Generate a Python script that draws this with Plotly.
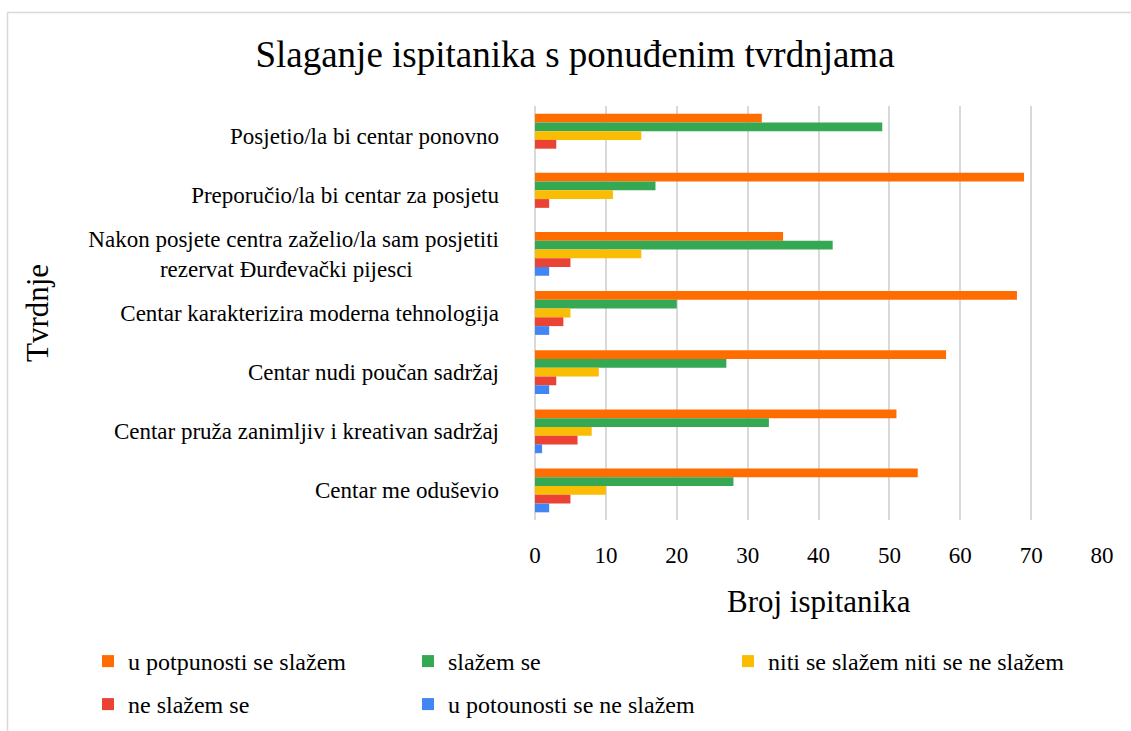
import plotly.graph_objects as go

categories = [
    "Posjetio/la bi centar ponovno",
    "Preporučio/la bi centar za posjetu",
    "Nakon posjete centra zaželio/la sam posjetiti rezervat Đurđevački pijesci",
    "Centar karakterizira moderna tehnologija",
    "Centar nudi poučan sadržaj",
    "Centar pruža zanimljiv i kreativan sadržaj",
    "Centar me oduševio",
]
tick_labels = [
    "Posjetio/la bi centar ponovno",
    "Preporučio/la bi centar za posjetu",
    "Nakon posjete centra zaželio/la sam posjetiti<br>rezervat Đurđevački pijesci" + "\u00a0" * 15,
    "Centar karakterizira moderna tehnologija",
    "Centar nudi poučan sadržaj",
    "Centar pruža zanimljiv i kreativan sadržaj",
    "Centar me oduševio",
]
series_names = [
    "u potpunosti se slažem",
    "slažem se",
    "niti se slažem niti se ne slažem",
    "ne slažem se",
    "u potounosti se ne slažem",
]
u_potpunosti_se_slazem = [32, 69, 35, 68, 58, 51, 54]
slazem_se = [49, 17, 42, 20, 27, 33, 28]
niti_niti = [15, 11, 15, 5, 9, 8, 10]
ne_slazem_se = [3, 2, 5, 4, 3, 6, 5]
u_potpunosti_ne = [0, 0, 2, 2, 2, 1, 2]
x_ticks = [0, 10, 20, 30, 40, 50, 60, 70, 80]

series_values = [u_potpunosti_se_slazem, slazem_se, niti_niti, ne_slazem_se, u_potpunosti_ne]
colors = ["#FF6D01", "#34A853", "#FBBC04", "#EA4335", "#4285F4"]

FONT = "Liberation Serif"
W, H = 1131, 731
L, R, T, B = 535, 29, 106, 211
pw, ph = W - L - R, H - T - B

# legend slot per series: (column, row)
legend_ids = ["legend2", "legend3", "legend4", "legend5", "legend6"]
legend_cols = [88, 408, 728, 88, 408]
legend_rows = [639, 639, 639, 682, 682]

fig = go.Figure()
for name, vals, col, lg in zip(series_names, series_values, colors, legend_ids):
    fig.add_trace(go.Bar(
        y=categories, x=vals, name=name, orientation="h",
        marker=dict(color=col, line=dict(width=0)), legend=lg,
        showlegend=True,
    ))

def px_x(p):
    return (p - L) / pw

def px_y(p):
    return (H - B - p) / ph

legends = {}
for lg, cx, ry in zip(legend_ids, legend_cols, legend_rows):
    legends[lg] = dict(orientation="h", xref="container", yref="container",
                       x=cx / W, xanchor="left", y=1 - ry / H, yanchor="top",
                       font=dict(family=FONT, size=24),
                       bgcolor="rgba(0,0,0,0)")

fig.update_layout(
    width=W, height=H,
    showlegend=True,
    margin=dict(l=L, r=R, t=T, b=B, autoexpand=False),
    paper_bgcolor="white", plot_bgcolor="white",
    font=dict(family=FONT, color="#000000", size=23),
    barmode="group", bargap=0.26, bargroupgap=0,
    title=dict(text="Slaganje ispitanika s ponuđenim tvrdnjama",
               font=dict(family=FONT, size=37, color="#000000"),
               x=575 / W, xref="container", xanchor="center",
               y=1 - 54 / H, yref="container", yanchor="middle"),
    xaxis=dict(range=[0, 80], tickvals=x_ticks, showgrid=True,
               gridcolor="#d9d9d9", gridwidth=1.5, zeroline=True,
               zerolinecolor="#d9d9d9", zerolinewidth=1.5, showline=False,
               ticks="", tickfont=dict(size=23), ticklabelstandoff=19,
               fixedrange=True),
    yaxis=dict(type="category", autorange="reversed", tickvals=categories,
               ticktext=tick_labels, showgrid=False, zeroline=False,
               showline=False, ticks="", tickfont=dict(size=23),
               ticklabelstandoff=35, fixedrange=True),
    annotations=[
        dict(text="Broj ispitanika", xref="paper", yref="paper",
             x=0.5, y=px_y(601), xanchor="center", yanchor="middle",
             showarrow=False, font=dict(family=FONT, size=31)),
        dict(text="Tvrdnje", xref="paper", yref="paper",
             x=px_x(37), y=0.5, xanchor="center", yanchor="middle",
             textangle=-90, showarrow=False, font=dict(family=FONT, size=31)),
    ],
    shapes=[
        dict(type="rect", xref="paper", yref="paper",
             x0=px_x(7.5), x1=px_x(1140), y0=px_y(745), y1=px_y(12.5),
             line=dict(color="#d9d9d9", width=1.5), fillcolor="rgba(0,0,0,0)",
             layer="below"),
    ],
    **legends,
)

fig.write_html("out.html", config={"displayModeBar": False},
               post_script="document.body.style.margin='0';")
